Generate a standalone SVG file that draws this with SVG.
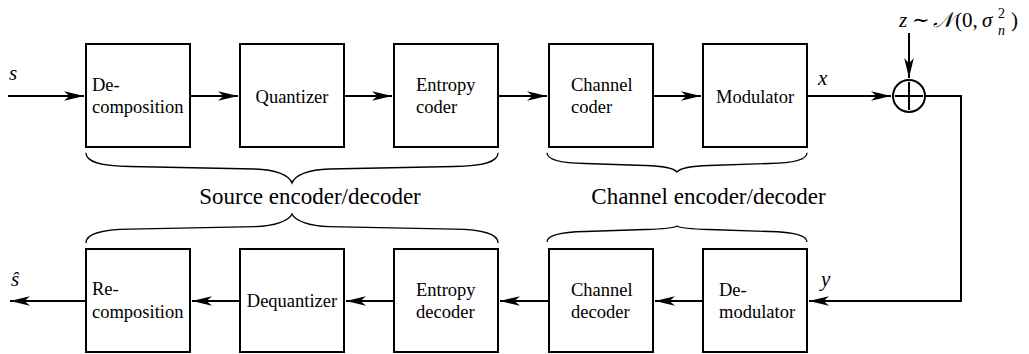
<svg xmlns="http://www.w3.org/2000/svg" width="1029" height="354" viewBox="0 0 1029 354">
<style>
.box{fill:#fff;stroke:#000;stroke-width:2}
text{font-family:'Liberation Serif','DejaVu Serif',serif;fill:#000}
.t{font-size:18.5px}
.c{text-anchor:middle}
.lbl{font-size:23px;text-anchor:middle}
.m{font-size:21px;font-style:italic}
.mr{font-size:21px}
.sm{font-size:14px}
.w{fill:none;stroke:#000;stroke-width:2}
.br{fill:none;stroke:#000;stroke-width:1.3}
</style>
<defs>
<marker id="ar" viewBox="-21 -6 22 12" refX="0" refY="0" markerWidth="22" markerHeight="12" markerUnits="userSpaceOnUse" orient="auto">
<path d="M0,0 L-20,-4.8 L-14.5,0 L-20,4.8 Z" fill="#000"/>
</marker>
</defs>

<g id="connectors">
<path class="w" d="M8,96 H84" marker-end="url(#ar)"/>
<path class="w" d="M190,96 H238" marker-end="url(#ar)"/>
<path class="w" d="M344,96 H392" marker-end="url(#ar)"/>
<path class="w" d="M498,96 H547" marker-end="url(#ar)"/>
<path class="w" d="M653,96 H701" marker-end="url(#ar)"/>
<path class="w" d="M807,96 H891" marker-end="url(#ar)"/>
<path class="w" d="M909,33 V78" marker-end="url(#ar)"/>
<path class="w" d="M925,96 H961 V301 H809" marker-end="url(#ar)"/>
<path class="w" d="M703,301 H655" marker-end="url(#ar)"/>
<path class="w" d="M549,301 H500" marker-end="url(#ar)"/>
<path class="w" d="M394,301 H346" marker-end="url(#ar)"/>
<path class="w" d="M240,301 H192" marker-end="url(#ar)"/>
<path class="w" d="M86,301 H10" marker-end="url(#ar)"/>
</g>

<g id="decomposition"><rect class="box" x="86" y="44" width="104" height="103"/>
<text class="t" x="92" y="90.5">De-</text><text class="t" x="92" y="112.5">composition</text></g>
<g id="quantizer"><rect class="box" x="240" y="44" width="104" height="103"/>
<text class="t c" x="292" y="102.5">Quantizer</text></g>
<g id="entropy-coder"><rect class="box" x="394" y="44" width="104" height="103"/>
<text class="t" x="416" y="90.5">Entropy</text><text class="t" x="416" y="112.5">coder</text></g>
<g id="channel-coder"><rect class="box" x="549" y="44" width="104" height="103"/>
<text class="t" x="571" y="90.5">Channel</text><text class="t" x="571" y="112.5">coder</text></g>
<g id="modulator"><rect class="box" x="703" y="44" width="104" height="103"/>
<text class="t c" x="755" y="102.5">Modulator</text></g>

<g id="adder"><circle cx="909" cy="96" r="16" fill="#fff" stroke="#000" stroke-width="2"/>
<path d="M895,96 H923 M909,82 V110" stroke="#000" stroke-width="2"/></g>

<g id="recomposition"><rect class="box" x="86" y="249" width="104" height="103"/>
<text class="t" x="92" y="295">Re-</text><text class="t" x="92" y="317.5">composition</text></g>
<g id="dequantizer"><rect class="box" x="240" y="249" width="104" height="103"/>
<text class="t c" x="292" y="306.5">Dequantizer</text></g>
<g id="entropy-decoder"><rect class="box" x="394" y="249" width="104" height="103"/>
<text class="t" x="416" y="296">Entropy</text><text class="t" x="416" y="318">decoder</text></g>
<g id="channel-decoder"><rect class="box" x="549" y="249" width="104" height="103"/>
<text class="t" x="571" y="296">Channel</text><text class="t" x="571" y="318">decoder</text></g>
<g id="demodulator"><rect class="box" x="703" y="249" width="104" height="103"/>
<text class="t" x="719" y="296">De-</text><text class="t" x="719" y="318">modulator</text></g>

<g id="braces">
<path class="br" d="M86,152.7 C86,162 100,166 130,166.5 L255,169 C275,169.5 289,175 292,183 C295,175 309,169.5 329,169 L454,166.5 C484,166 498,162 498,152.7"/>
<path class="br" d="M86,243 C86,233.7 100,229.7 130,229.2 L255,226.7 C275,226.2 289,220.7 292,214 C295,220.7 309,226.2 329,226.7 L454,229.2 C484,229.7 498,233.7 498,243"/>
<path class="br" d="M547,152.7 C547,159 558,163 585,163.5 L645,165.5 C664,166 674,168.5 677,172 C680,168.5 690,166 709,165.5 L769,163.5 C796,163 807,159 807,152.7"/>
<path class="br" d="M547,242 C547,236 558,232 585,231.5 L645,229.5 C664,229 674,228 677,226 C680,228 690,229 709,229.5 L769,231.5 C796,232 807,236 807,242"/>
</g>

<g id="labels">
<text class="lbl" x="310" y="204">Source encoder/decoder</text>
<text class="lbl" x="708.5" y="204">Channel encoder/decoder</text>
<text class="m" x="9" y="80">s</text>
<text class="m" x="11" y="286">ŝ</text>
<text class="m" x="818" y="85">x</text>
<text class="m" x="821" y="286">y</text>
<text class="m" x="899" y="27">z</text>
<text class="mr" x="912" y="27">∼</text>
<text class="m" x="933" y="27">𝒩</text>
<text class="mr" x="955" y="27">(0,</text>
<text class="m" x="982" y="27">σ</text>
<text class="mr sm" x="998" y="18">2</text>
<text class="m sm" x="998" y="35">n</text>
<text class="mr" x="1011" y="27">)</text>
</g>
</svg>
